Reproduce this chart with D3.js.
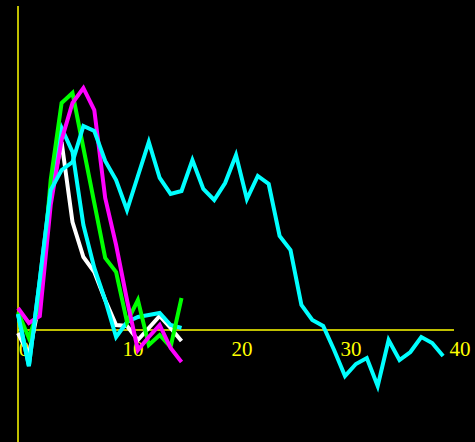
<!DOCTYPE html>
<html>
<head>
<meta charset="utf-8">
<script src="https://cdn.jsdelivr.net/npm/d3@7/dist/d3.min.js"></script>
<style>
  html, body { margin: 0; padding: 0; background: #000; }
  svg { display: block; }
</style>
</head>
<body>
<svg id="chart" width="475" height="442"></svg>
<script>
// ---- data (y in arbitrary units, 0 = axis) ----
const xTicks = [0, 10, 20, 30, 40];

const cyanLong = [0.16, -0.36, 0.50, 1.40, 1.60, 1.68, 2.04, 1.99, 1.69, 1.50,
                  1.20, 1.54, 1.88, 1.52, 1.36, 1.39, 1.70, 1.41, 1.30, 1.47,
                  1.75, 1.31, 1.54, 1.46, 0.94, 0.80, 0.25, 0.10, 0.04, -0.20,
                  -0.46, -0.34, -0.28, -0.56, -0.10, -0.30, -0.22, -0.07, -0.13, -0.26];

const cyanShort = [0.16, -0.36, 0.50, 1.40, 2.02, 1.78, 1.05, 0.62, 0.30, -0.07,
                   0.08, 0.13, 0.15, 0.17, 0.05, 0.02];

const white = [-0.03, -0.25, 0.30, 1.35, 1.88, 1.08, 0.73, 0.58, 0.30, 0.05,
               0.04, -0.10, 0.02, 0.14, 0.02, -0.11];

const green = [0.18, -0.08, 0.25, 1.50, 2.27, 2.37, 1.82, 1.27, 0.72, 0.58,
               0.08, 0.30, -0.15, -0.05, -0.17, 0.32];

const magenta = [0.22, 0.07, 0.14, 1.25, 1.90, 2.27, 2.42, 2.20, 1.32, 0.85,
                 0.30, -0.20, -0.07, 0.05, -0.18, -0.32];

const seriesList = [
  { name: "white", values: white, color: "#ffffff" },
  { name: "cyanShort", values: cyanShort, color: "#00ffff" },
  { name: "green", values: green, color: "#00ff00" },
  { name: "magenta", values: magenta, color: "#ff00ff" },
  { name: "cyanLong", values: cyanLong, color: "#00ffff" }
];

// ---- scales ----
const svg = d3.select("#chart");
const x = d3.scaleLinear().domain([0, 40]).range([18, 454]);
const y = d3.scaleLinear().domain([-1.12, 3.24]).range([442, 6]);
const yellow = "#ffff00";

// x axis
const xAxis = svg.append("g")
  .attr("transform", `translate(0,${y(0)})`)
  .call(d3.axisBottom(x).tickValues(xTicks).tickSize(0).tickFormat(d3.format("d")));
xAxis.select(".domain").attr("stroke", yellow).attr("stroke-width", 1.5).attr("d", `M${x(0)},0H${x(40)}`);
xAxis.selectAll("text")
  .attr("fill", yellow)
  .attr("font-family", "'Liberation Serif', 'Times New Roman', serif")
  .attr("font-size", 21)
  .attr("text-anchor", "middle")
  .attr("dx", 5.5)
  .attr("dy", 0)
  .attr("y", 25.5);

// y axis
const yAxis = svg.append("g")
  .attr("transform", `translate(${x(0)},0)`)
  .call(d3.axisLeft(y).tickValues([]).tickSize(0));
yAxis.select(".domain").attr("stroke", yellow).attr("stroke-width", 1.5).attr("d", `M0,${y(3.24)}V${y(-1.12)}`);

// lines
const line = d3.line()
  .x((d, i) => x(i))
  .y(d => y(d));

svg.append("g").selectAll("path")
  .data(seriesList)
  .join("path")
  .attr("d", d => line(d.values))
  .attr("fill", "none")
  .attr("stroke", d => d.color)
  .attr("stroke-width", 4)
  .attr("stroke-linejoin", "miter");
</script>
</body>
</html>
